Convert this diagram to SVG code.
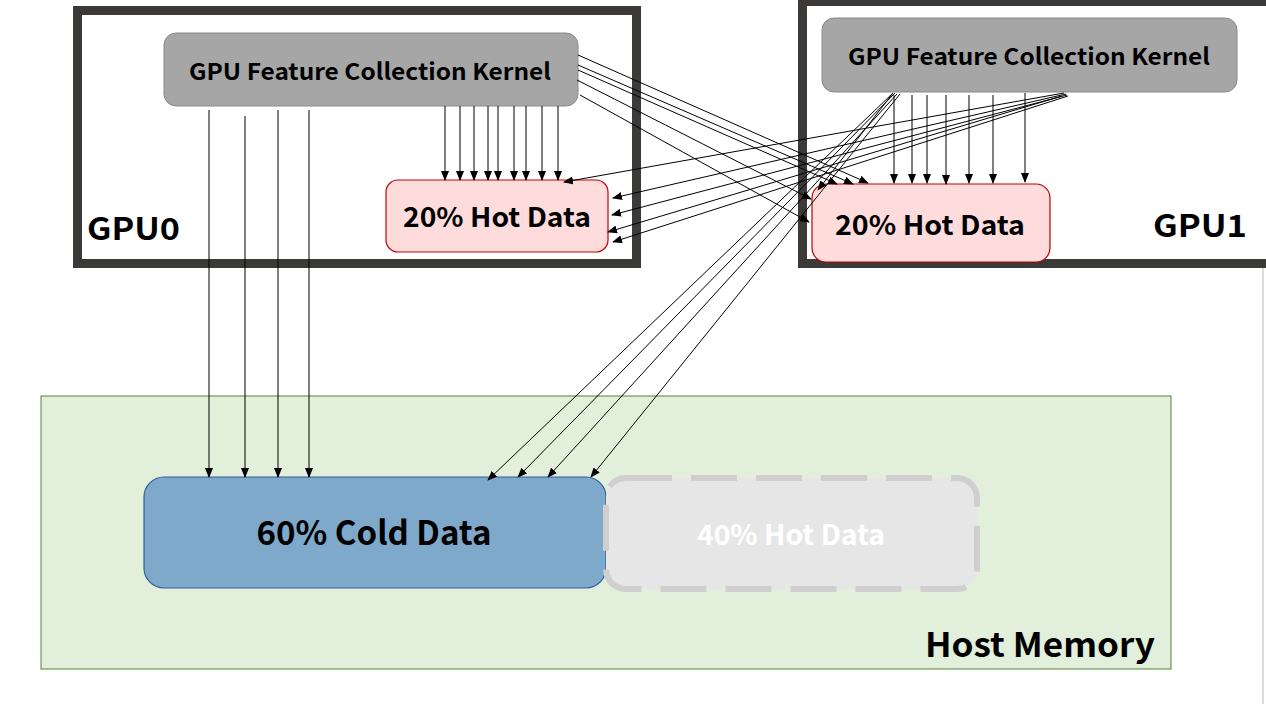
<svg xmlns="http://www.w3.org/2000/svg" width="1266" height="704" viewBox="0 0 1266 704">
<defs>
<marker id="ah" markerUnits="userSpaceOnUse" markerWidth="10" markerHeight="8" refX="9" refY="4" orient="auto">
<path d="M0,0 L10,4 L0,8 Z" fill="#000"/>
</marker>
<style>
.t{font-family:"Noto Sans CJK SC","Open Sans",sans-serif;font-weight:bold;text-anchor:middle}
.frame{fill:#fff;stroke:#3b3a39;stroke-width:9}
.kern{fill:#a6a6a6;stroke:#8a8a8a;stroke-width:1}
.hot{fill:#ffdcdc;stroke:#c00000;stroke-width:1.2}
.c line{stroke:#000;stroke-width:1;marker-end:url(#ah)}
</style>
</defs>
<rect x="0" y="0" width="1266" height="704" fill="#fff"/>
<line x1="1263" y1="0" x2="1263" y2="704" stroke="#dcdcdc" stroke-width="2"/>
<g id="host">
<rect x="41" y="396" width="1130" height="273" fill="#e2efda" stroke="#548235" stroke-width="1"/>
<text class="t" x="1155" y="657" font-size="33" style="text-anchor:end" textLength="230" lengthAdjust="spacingAndGlyphs">Host Memory</text>
</g>
<g id="gpu0">
<rect class="frame" x="77.5" y="10.5" width="559" height="253"/>
<text class="t" x="87" y="240" font-size="31" style="text-anchor:start" textLength="93" lengthAdjust="spacingAndGlyphs">GPU0</text>
</g>
<g id="gpu1">
<rect class="frame" x="802.5" y="1.5" width="480" height="262"/>
<text class="t" x="1247" y="237" font-size="31" style="text-anchor:end" textLength="94" lengthAdjust="spacingAndGlyphs">GPU1</text>
</g>
<g id="kernel0">
<rect class="kern" x="164" y="33" width="414" height="73" rx="12"/>
<text class="t" x="370" y="80" font-size="23" textLength="362" lengthAdjust="spacingAndGlyphs">GPU Feature Collection Kernel</text>
</g>
<g id="kernel1">
<rect class="kern" x="822" y="18" width="415" height="74" rx="12"/>
<text class="t" x="1029" y="65" font-size="23" textLength="362" lengthAdjust="spacingAndGlyphs">GPU Feature Collection Kernel</text>
</g>
<g id="hot0">
<rect class="hot" x="386" y="180" width="222" height="72" rx="12"/>
<text class="t" x="497" y="227" font-size="27" textLength="188" lengthAdjust="spacingAndGlyphs">20% Hot Data</text>
</g>
<g id="hot1">
<rect class="hot" x="812" y="184" width="238" height="78" rx="14"/>
<text class="t" x="930" y="235" font-size="27" textLength="190" lengthAdjust="spacingAndGlyphs">20% Hot Data</text>
</g>
<g id="cold">
<rect x="144" y="477" width="462" height="111" rx="20" fill="#7ea9cb" stroke="#2e5e9a" stroke-width="1.2"/>
<text class="t" x="374" y="545" font-size="33" textLength="235" lengthAdjust="spacingAndGlyphs">60% Cold Data</text>
</g>
<g id="hot40">
<rect x="606" y="478" width="371" height="111" rx="20" fill="#e7e6e6" stroke="#d0cece" stroke-width="6" stroke-dasharray="46 19"/>
<text class="t" x="791" y="545" font-size="28" fill="#fff" textLength="188" lengthAdjust="spacingAndGlyphs">40% Hot Data</text>
</g>
<g id="connectors" class="c">
<line x1="445" y1="106" x2="445" y2="180"/>
<line x1="460" y1="106" x2="460" y2="180"/>
<line x1="474" y1="106" x2="474" y2="180"/>
<line x1="488" y1="106" x2="488" y2="180"/>
<line x1="498" y1="106" x2="498" y2="180"/>
<line x1="514" y1="106" x2="514" y2="180"/>
<line x1="526" y1="106" x2="526" y2="180"/>
<line x1="542" y1="106" x2="542" y2="180"/>
<line x1="558" y1="106" x2="558" y2="180"/>
<line x1="209" y1="110" x2="209" y2="477"/>
<line x1="245" y1="116" x2="245" y2="477"/>
<line x1="278" y1="110" x2="278" y2="477"/>
<line x1="309" y1="110" x2="309" y2="477"/>
<line x1="578" y1="55" x2="868" y2="183"/>
<line x1="578" y1="65" x2="853" y2="184"/>
<line x1="578" y1="70" x2="837" y2="184"/>
<line x1="577" y1="80" x2="811" y2="199"/>
<line x1="580" y1="95" x2="809" y2="222"/>
<line x1="894" y1="95" x2="894" y2="183"/>
<line x1="912" y1="95" x2="912" y2="183"/>
<line x1="927" y1="95" x2="927" y2="183"/>
<line x1="946" y1="95" x2="946" y2="184"/>
<line x1="969" y1="95" x2="969" y2="183"/>
<line x1="993" y1="95" x2="993" y2="183"/>
<line x1="1025" y1="93" x2="1025" y2="182"/>
<line x1="893" y1="93" x2="818" y2="190"/>
<line x1="893" y1="93" x2="488" y2="480"/>
<line x1="895" y1="93" x2="518" y2="477"/>
<line x1="897" y1="94" x2="548" y2="477"/>
<line x1="900" y1="94" x2="591" y2="477"/>
<line x1="1064" y1="93" x2="564" y2="182"/>
<line x1="1066" y1="94" x2="613" y2="198"/>
<line x1="1067" y1="95" x2="612" y2="215"/>
<line x1="1062" y1="96" x2="608" y2="232"/>
<line x1="1068" y1="96" x2="613" y2="242"/>
</g>
</svg>
